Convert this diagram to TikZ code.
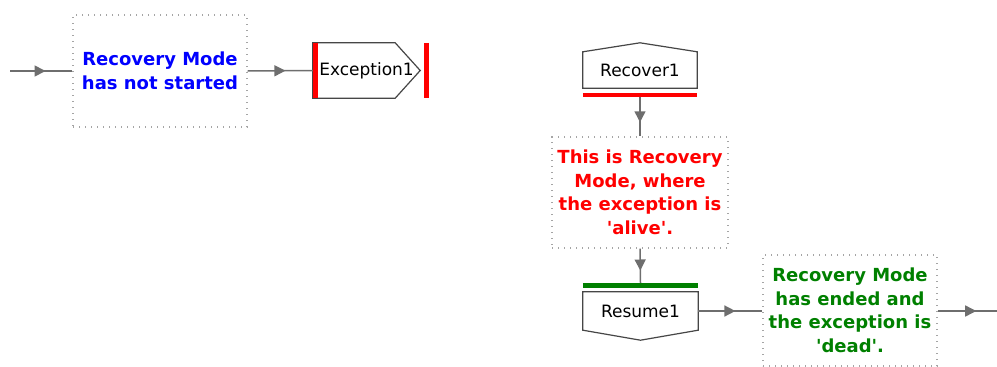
\documentclass[tikz,border=0pt]{standalone}
\usepackage{fontspec}
\setmainfont{DejaVu Sans}
\usetikzlibrary{decorations.markings,arrows.meta}
\definecolor{linegray}{RGB}{110,110,110}
\definecolor{dotgray}{RGB}{165,165,165}
\definecolor{shapegray}{RGB}{70,70,70}
\definecolor{dkgreen}{RGB}{0,128,0}
\begin{document}
\begin{tikzpicture}[x=1pt,y=-1pt,
  note/.style={draw=dotgray, line width=1.3pt, dash pattern=on 1.3pt off 4.7pt, inner sep=0pt, align=center,
    font=\fontsize{18}{23.5}\selectfont\bfseries},
  shapebox/.style={inner sep=0pt, font=\fontsize{17}{20}\selectfont},
  outline/.style={draw=shapegray, line width=1.2pt, fill=white, line join=miter},
  conn/.style={draw=linegray, line width=1.5pt},
  midarrow/.style={postaction={decorate}, decoration={markings,
    mark=at position #1 with {\arrow[linegray]{Triangle[length=11pt,width=11pt]}}}}
]
\useasboundingbox (0,0) rectangle (997,367);

% notes
\node[note, text=blue, minimum width=174pt, minimum height=112pt] (n1) at (160,71) {Recovery Mode\\has not started};
\node[note, text=red, minimum width=176pt, minimum height=111pt] (n2) at (640,192.5) {This is Recovery\\Mode, where\\the exception is\\\textquotesingle alive\textquotesingle.};
\node[note, text=dkgreen, minimum width=174pt, minimum height=111pt] (n3) at (850,310.5) {Recovery Mode\\has ended and\\the exception is\\\textquotesingle dead\textquotesingle.};

% Exception1
\node[shapebox, minimum width=107pt, minimum height=55pt] (ex) at (366.5,70.5) {};
\draw[outline] (ex.north west) -- ([xshift=-25pt]ex.north east) -- (ex.east) -- ([xshift=-25pt]ex.south east) -- (ex.south west) -- cycle;
\node[shapebox] at (ex.center) {Exception1};
\draw[red, line width=5pt] ([xshift=2.5pt]ex.north west) -- ([xshift=2.5pt]ex.south west);
\draw[red, line width=5pt] ([xshift=6pt]ex.north east) -- ([xshift=6pt]ex.south east);

% Recover1
\node[shapebox, minimum width=114pt, minimum height=36pt] (rec) at (640,70) {};
\draw[outline] (rec.south west) -- (rec.north west) -- ([yshift=9pt]rec.north) -- (rec.north east) -- (rec.south east) -- cycle;
\node[shapebox] at (rec.center) {Recover1};
\draw[red, line width=4.5pt] ([yshift=-7pt]rec.south west) -- ([yshift=-7pt]rec.south east);
\coordinate (recbar) at ([yshift=-9pt]rec.south);

% Resume1
\node[shapebox, minimum width=115pt, minimum height=38pt] (res) at (640.5,311) {};
\draw[outline] (res.north west) -- (res.north east) -- (res.south east) -- ([yshift=-10pt]res.south) -- (res.south west) -- cycle;
\node[shapebox] at (res.center) {Resume1};
\draw[dkgreen, line width=5pt] ([yshift=6.5pt]res.north west) -- ([yshift=6.5pt]res.north east);
\coordinate (resbar) at ([yshift=9pt]res.north);

% connectors
\coordinate (start) at (10,71);
\coordinate (finish) at (997,311);
\draw[conn, midarrow=0.57] (start) -- (n1.west);
\draw[conn, midarrow=0.58] (n1.east) -- (ex.west);
\draw[conn, midarrow=0.64] (recbar) -- (n2.north);
\draw[conn, midarrow=0.64] (n2.south) -- (resbar);
\draw[conn, midarrow=0.58] (res.east) -- (res.east -| n3.west);
\draw[conn, midarrow=0.65] (n3.east |- res.east) -- (finish);
\end{tikzpicture}
\end{document}
